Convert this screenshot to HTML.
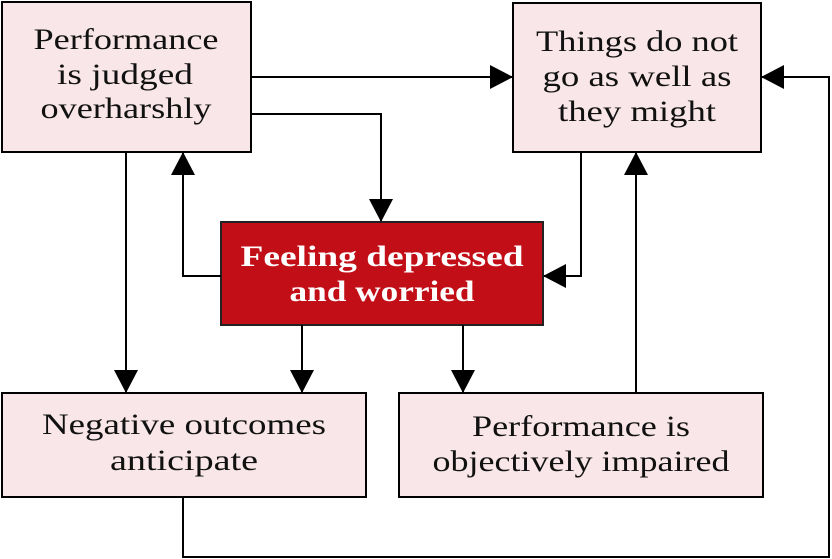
<!DOCTYPE html>
<html><head><meta charset="utf-8"><style>
html,body{margin:0;padding:0;background:#fff;}
svg{display:block;}
text{font-family:"Liberation Serif",serif;font-size:30px;fill:#111;text-anchor:middle;}
</style></head><body>
<svg width="832" height="559" viewBox="0 0 832 559">
<defs><marker id="a" markerWidth="24" markerHeight="24" refX="22" refY="12" orient="auto" markerUnits="userSpaceOnUse"><path d="M0,0 L23,12 L0,24 Z" fill="#000"/></marker></defs>
<g fill="#f9e6e8" stroke="#000" stroke-width="2">
<rect x="2" y="2" width="249" height="150"/>
<rect x="513" y="3" width="248" height="149"/>
<rect x="2" y="393" width="364" height="104"/>
<rect x="399" y="393" width="364" height="104"/>
</g>
<rect x="221" y="222" width="322" height="103" fill="#c20f17" stroke="#222" stroke-width="2"/>
<g fill="none" stroke="#000" stroke-width="2">
<path d="M251,77 H512" marker-end="url(#a)"/>
<path d="M251,114 H381 V221" marker-end="url(#a)"/>
<path d="M221,276 H183 V153" marker-end="url(#a)"/>
<path d="M126,152 V392" marker-end="url(#a)"/>
<path d="M302,325 V392" marker-end="url(#a)"/>
<path d="M463,325 V392" marker-end="url(#a)"/>
<path d="M581,152 V276 H544" marker-end="url(#a)"/>
<path d="M636,393 V153" marker-end="url(#a)"/>
<path d="M183,497 V557 H829 V77 H762" marker-end="url(#a)"/>
</g>
<text x="126" y="49" textLength="185" lengthAdjust="spacingAndGlyphs">Performance</text>
<text x="125" y="84" textLength="136" lengthAdjust="spacingAndGlyphs">is judged</text>
<text x="126" y="118" textLength="171" lengthAdjust="spacingAndGlyphs">overharshly</text>
<text x="637" y="51" textLength="202" lengthAdjust="spacingAndGlyphs">Things do not</text>
<text x="637" y="86" textLength="189" lengthAdjust="spacingAndGlyphs">go as well as</text>
<text x="637" y="121" textLength="158" lengthAdjust="spacingAndGlyphs">they might</text>
<text x="382" y="266" textLength="283" lengthAdjust="spacingAndGlyphs" style="fill:#fff;font-weight:bold">Feeling depressed</text>
<text x="382" y="301" textLength="185" lengthAdjust="spacingAndGlyphs" style="fill:#fff;font-weight:bold">and worried</text>
<text x="184" y="434" textLength="284" lengthAdjust="spacingAndGlyphs">Negative outcomes</text>
<text x="184" y="470" textLength="148" lengthAdjust="spacingAndGlyphs">anticipate</text>
<text x="581" y="436" textLength="218" lengthAdjust="spacingAndGlyphs">Performance is</text>
<text x="581" y="471" textLength="297" lengthAdjust="spacingAndGlyphs">objectively impaired</text>
</svg>
</body></html>
